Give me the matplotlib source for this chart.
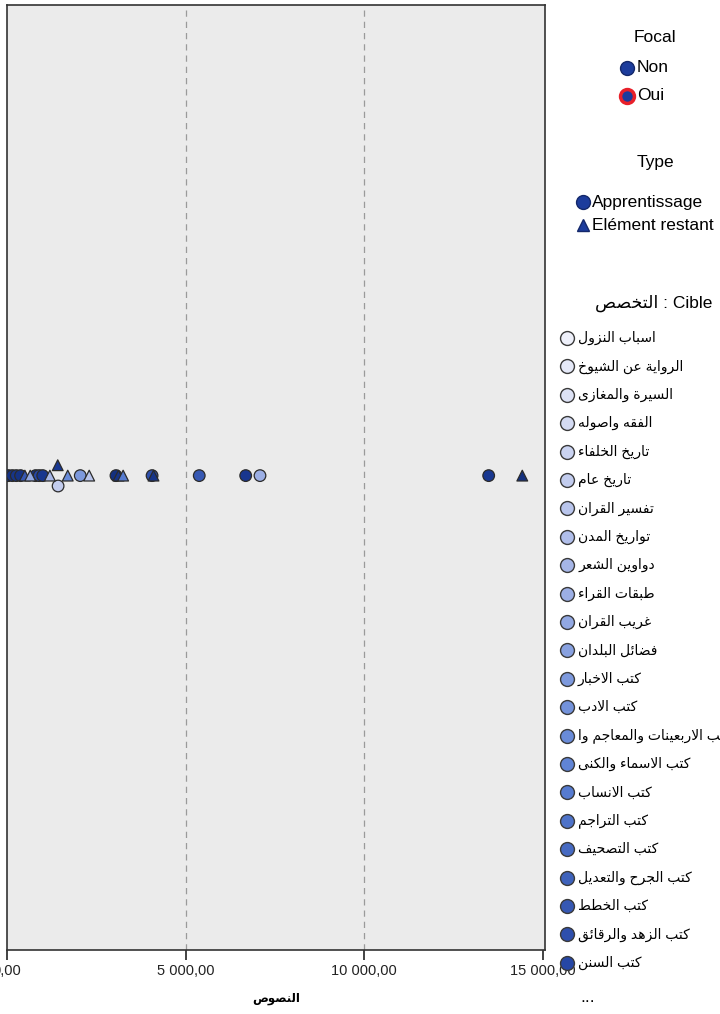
import numpy as np
import matplotlib.pyplot as plt
from matplotlib.colors import LinearSegmentedColormap
from matplotlib.ticker import FuncFormatter

# ---- data ----
values = [40, 150, 260, 380, 500, 650, 800, 900, 1000, 1200, 1420, 1430, 1700,
          2050, 2300, 3050, 3120, 3250, 4060, 4100, 5380, 6680, 7080, 13480, 14420]
types = ['A', 'A', 'A', 'A', 'E', 'E', 'A', 'A', 'A', 'E', 'E', 'A', 'E',
         'A', 'E', 'A', 'E', 'E', 'A', 'E', 'A', 'A', 'A', 'A', 'E']
cible_idx = [31, 29, 28, 30, 20, 10, 30, 22, 27, 8, 26, 5, 14,
             12, 6, 31, 29, 16, 21, 28, 20, 27, 9, 26, 31]
stack = [0, 0, 0, 0, 0, 0, 0, 0, 0, 0, 1, -1, 0,
         0, 0, 0, 0, 0, 0, 0, 0, 0, 0, 0, 0]

cible_labels = ['اسباب النزول', 'الرواية عن الشيوخ', 'السيرة والمغازى', 'الفقه واصوله',
                'تاريخ الخلفاء', 'تاريخ عام', 'تفسير القران', 'تواريخ المدن',
                'دواوين الشعر', 'طبقات القراء', 'غريب القران', 'فضائل البلدان',
                'كتب الاخبار', 'كتب الادب', 'كتب الاربعينات والمعاجم وا',
                'كتب الاسماء والكنى', 'كتب الانساب', 'كتب التراجم', 'كتب التصحيف',
                'كتب الجرح والتعديل', 'كتب الخطط', 'كتب الزهد والرقائق', 'كتب السنن']
n_cible = 32
focal_labels = ['Non', 'Oui']
type_labels = ['Apprentissage', 'Elément restant']
xticks = [0, 5000, 10000, 15000]

# ---- minimal arabic shaping (matplotlib has no bidi/shaping) ----
DUAL = {'ئ': 0xFE89, 'ب': 0xFE8F, 'ت': 0xFE95, 'ث': 0xFE99, 'ج': 0xFE9D, 'ح': 0xFEA1,
        'خ': 0xFEA5, 'س': 0xFEB1, 'ش': 0xFEB5, 'ص': 0xFEB9, 'ض': 0xFEBD, 'ط': 0xFEC1,
        'ظ': 0xFEC5, 'ع': 0xFEC9, 'غ': 0xFECD, 'ف': 0xFED1, 'ق': 0xFED5, 'ك': 0xFED9,
        'ل': 0xFEDD, 'م': 0xFEE1, 'ن': 0xFEE5, 'ه': 0xFEE9, 'ي': 0xFEF1}
RIGHT = {'آ': 0xFE81, 'أ': 0xFE83, 'ؤ': 0xFE85, 'إ': 0xFE87, 'ا': 0xFE8D, 'ة': 0xFE93,
         'د': 0xFEA9, 'ذ': 0xFEAB, 'ر': 0xFEAD, 'ز': 0xFEAF, 'و': 0xFEED, 'ى': 0xFEEF}
LAMALEF = {'آ': 0xFEF5, 'أ': 0xFEF7, 'إ': 0xFEF9, 'ا': 0xFEFB}


def joins(c):
    return c in DUAL or c in RIGHT


def shape(s):
    out = []
    i = 0
    while i < len(s):
        c = s[i]
        prev = s[i - 1] if i > 0 else ''
        before = prev in DUAL
        nxt = s[i + 1] if i + 1 < len(s) else ''
        if c == 'ل' and nxt in LAMALEF:
            out.append(chr(LAMALEF[nxt] + (1 if before else 0)))
            i += 2
            continue
        if c in DUAL:
            after = joins(nxt)
            off = 3 if (before and after) else 1 if before else 2 if after else 0
            out.append(chr(DUAL[c] + off))
        elif c in RIGHT:
            out.append(chr(RIGHT[c] + (1 if before else 0)))
        else:
            out.append(c)
        i += 1
    return ''.join(out[::-1])


FAM = ['Liberation Sans', 'DejaVu Sans']
plt.rcParams['font.family'] = FAM

cmap = LinearSegmentedColormap.from_list(
    'cible', ['#eef0fa', '#a9b8e8', '#5a80d4', '#1c3c9c', '#14307e'])
shades = [cmap(i / (n_cible - 1)) for i in range(n_cible)]

W, H = 720, 1014
fig = plt.figure(figsize=(W / 100, H / 100), dpi=100)
ax = fig.add_axes([7 / W, 1 - 950 / H, 538 / W, 945 / H])
ax.set_facecolor('#ebebeb')

vals = np.array(values)
ys = np.array(stack) * 0.022 + 0.004
cols = np.array([shades[c] for c in cible_idx])
for t, m in zip(['A', 'E'], ['o', '^']):
    sel = np.array([tt == t for tt in types])
    ax.scatter(vals[sel], ys[sel], s=70 if m == 'o' else 60, marker=m,
               c=cols[sel], edgecolors='#2b2b2b', linewidths=0.9, zorder=3)

ax.set_xlim(0, 15056)
ax.set_ylim(-1, 1)
ax.set_yticks([])
ax.set_xticks(xticks)
ax.xaxis.set_major_formatter(FuncFormatter(
    lambda v, p: '{:,.2f}'.format(v).replace(',', ' ').replace('.', ',')))
ax.tick_params(axis='x', direction='out', length=7, width=1.2, colors='#222222',
               labelsize=10.5, pad=3)
for gx in xticks[1:3]:
    ax.axvline(gx, color='#9a9a9a', linestyle=(0, (5, 4)), linewidth=0.9, zorder=1)
for sp in ax.spines.values():
    sp.set_color('#333333')
    sp.set_linewidth(1.2)
ax.set_xlabel(shape('النصوص'), fontsize=8.5, fontweight='bold', labelpad=11)

# ---- legends drawn in pixel space ----
lg = fig.add_axes([0, 0, 1, 1], zorder=5)
lg.set_xlim(0, W)
lg.set_ylim(H, 0)
lg.axis('off')

fs = 12.5
lg.text(655, 38, 'Focal', ha='center', va='center', fontsize=fs)
for i, lab in enumerate(focal_labels):
    y = 68 + i * 28
    lg.plot(627, y, 'o', ms=10, mfc='#1c3c9c',
            mec='#e8202a' if lab == 'Oui' else '#14286a',
            mew=2.5 if lab == 'Oui' else 1, clip_on=False)
    lg.text(637, y, lab, ha='left', va='center', fontsize=fs)

lg.text(655, 162, 'Type', ha='center', va='center', fontsize=fs)
for i, (lab, m) in enumerate(zip(type_labels, ['o', '^'])):
    y = 202 + i * 23
    lg.plot(583, y, m, ms=10 if m == 'o' else 8, mfc='#1c3c9c', mec='#14286a',
            mew=1, clip_on=False)
    lg.text(592, y, lab, ha='left', va='center', fontsize=fs)

lg.text(712, 303, shape('التخصص') + ' : Cible', ha='right', va='center', fontsize=fs)
for i, lab in enumerate(cible_labels):
    y = 338 + i * 28.4
    lg.plot(567, y, 'o', ms=10, mfc=shades[i], mec='#3a3a3a', mew=1, clip_on=False)
    lg.text(578, y, shape(lab), ha='left', va='center', fontsize=10)
lg.text(588, 998, '...', ha='center', va='center', fontsize=fs)

fig.savefig('out.png', dpi=100)
